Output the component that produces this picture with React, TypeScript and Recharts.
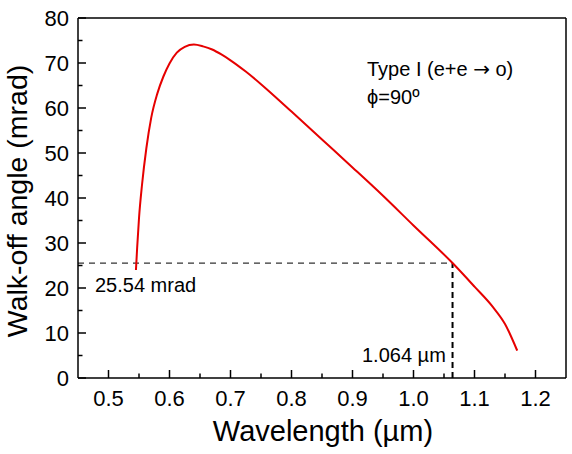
import React from 'react';
import { LineChart, Line, XAxis, YAxis, ReferenceLine, Customized } from 'recharts';

const wavelength = [
  0.545, 0.547, 0.55, 0.555, 0.562, 0.57, 0.58, 0.59, 0.6, 0.612, 0.625, 0.64, 0.655, 0.67, 0.685,
  0.7, 0.725, 0.75, 0.775, 0.8, 0.85, 0.9, 0.95, 1.0, 1.064, 1.1, 1.13, 1.15, 1.17,
];
const walkoff = [
  24.0, 29.0, 35.5, 43.0, 51.0, 57.8, 63.2, 67.0, 69.9, 72.3, 73.6, 74.1, 73.7, 73.0, 71.9,
  70.6, 68.1, 65.3, 62.3, 59.2, 53.0, 46.8, 40.5, 33.9, 25.54, 20.3, 15.8, 12.0, 6.1,
];
const xTicks = [0.5, 0.55, 0.6, 0.65, 0.7, 0.75, 0.8, 0.85, 0.9, 0.95, 1.0, 1.05, 1.1, 1.15, 1.2];
const yTicks = [0, 5, 10, 15, 20, 25, 30, 35, 40, 45, 50, 55, 60, 65, 70, 75, 80];
const xDomain = [0.45, 1.25];
const yDomain = [0, 80];
const markWavelength = 1.064;
const markAngle = 25.54;

const data = wavelength.map((x, i) => ({ x, y: walkoff[i] }));

const FONT = '"Liberation Sans", Arial, Helvetica, sans-serif';

const isMajor = (v: number, step: number) => Math.abs(v / step - Math.round(v / step)) < 1e-6;

const XTick = (props: any) => {
  const { x, y, payload } = props;
  const v = payload.value as number;
  const major = isMajor(v, 0.1);
  return (
    <g>
      <line x1={x} x2={x} y1={y} y2={y - (major ? 8 : 4.5)} stroke="#000" strokeWidth={1.5} />
      {major && (
        <text x={x} y={y + 28} textAnchor="middle" fontSize={22} fontFamily={FONT} fill="#000">
          {v.toFixed(1)}
        </text>
      )}
    </g>
  );
};

const YTick = (props: any) => {
  const { x, y, payload } = props;
  const v = payload.value as number;
  const major = isMajor(v, 10);
  return (
    <g>
      <line x1={x} x2={x + (major ? 8 : 4.5)} y1={y} y2={y} stroke="#000" strokeWidth={1.5} />
      {major && (
        <text x={x - 9} y={y + 8} textAnchor="end" fontSize={22} fontFamily={FONT} fill="#000">
          {v}
        </text>
      )}
    </g>
  );
};

const Annotations = () => (
  <g fontFamily={FONT} fill="#000">
    <text x={323} y={441} textAnchor="middle" fontSize={29}>
      Wavelength (µm)
    </text>
    <text x={27} y={201} textAnchor="middle" fontSize={28.5} transform="rotate(-90 27 201)">
      Walk-off angle (mrad)
    </text>
    <text x={367} y={76} fontSize={20}>
      Type I (e+e <tspan fontFamily='"DejaVu Sans", sans-serif'>→</tspan> o)
    </text>
    <text x={367} y={104} fontSize={20}>
      ϕ=90º
    </text>
    <text x={95} y={292} fontSize={20}>
      25.54 mrad
    </text>
    <text x={362} y={362} fontSize={20}>
      1.064 µm
    </text>
  </g>
);

export default function App() {
  return (
    <div style={{ position: 'absolute', left: 0, top: 0, background: '#fff' }}>
      <LineChart width={572} height={454} data={data} margin={{ top: 18, right: 6, left: 0, bottom: 0 }}>
        <XAxis
          dataKey="x"
          type="number"
          domain={xDomain}
          ticks={xTicks}
          interval={0}
          height={76}
          tickSize={0}
          tickMargin={0}
          tickLine={false}
          axisLine={{ stroke: '#000', strokeWidth: 1.5 }}
          tick={<XTick />}
          allowDataOverflow
        />
        <YAxis
          type="number"
          domain={yDomain}
          ticks={yTicks}
          interval={0}
          width={78}
          tickSize={0}
          tickMargin={0}
          tickLine={false}
          axisLine={{ stroke: '#000', strokeWidth: 1.5 }}
          tick={<YTick />}
          allowDataOverflow
        />
        <ReferenceLine y={yDomain[1]} stroke="#000" strokeWidth={1.5} />
        <ReferenceLine x={xDomain[1]} stroke="#000" strokeWidth={1.5} />
        <ReferenceLine
          segment={[
            { x: xDomain[0], y: markAngle },
            { x: markWavelength, y: markAngle },
          ]}
          stroke="#333"
          strokeWidth={1.3}
          strokeDasharray="6 5"
        />
        <ReferenceLine
          segment={[
            { x: markWavelength, y: yDomain[0] },
            { x: markWavelength, y: markAngle },
          ]}
          stroke="#000"
          strokeWidth={2}
          strokeDasharray="6 4"
        />
        <Line
          type="monotone"
          dataKey="y"
          stroke="#e60000"
          strokeWidth={2}
          dot={false}
          isAnimationActive={false}
        />
        <Customized component={<Annotations />} />
      </LineChart>
    </div>
  );
}
